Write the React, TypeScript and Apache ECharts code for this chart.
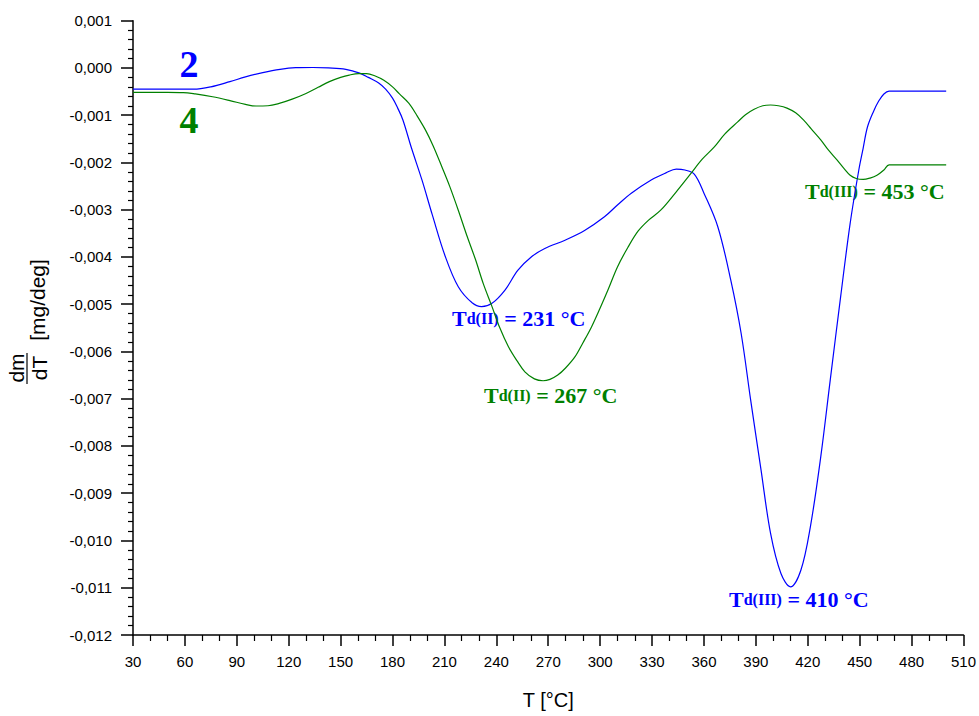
import React, { useEffect, useRef } from 'react';
import * as echarts from 'echarts';

// Temperature (°C) and DTG values (mg/deg)
const tempSample2 = [30, 40, 50, 60, 65, 75, 86, 95, 105, 115, 124, 134, 143, 153, 161, 166, 172, 176, 180, 183, 186, 191, 197, 203, 210.5, 218, 226, 231.5, 237.5, 245, 252.5, 260.5, 268, 280, 291, 302.5, 310, 318, 329.5, 338, 344, 349, 354.5, 360, 368, 375.5, 381.5, 387, 393, 398.5, 404.5, 410, 416, 421.5, 427.5, 433, 439, 444.5, 449.5, 452, 454.5, 458, 461, 464, 467, 480, 490, 500];
const dtgSample2 = [-0.45e-3, -0.45e-3, -0.45e-3, -0.45e-3, -0.45e-3, -0.40e-3, -0.29e-3, -0.19e-3, -0.10e-3, -0.03e-3, 0.005e-3, 0.01e-3, 0.0, -0.03e-3, -0.11e-3, -0.2e-3, -0.32e-3, -0.45e-3, -0.64e-3, -0.85e-3, -1.10e-3, -1.70e-3, -2.37e-3, -3.11e-3, -3.99e-3, -4.63e-3, -4.97e-3, -5.05e-3, -4.98e-3, -4.70e-3, -4.28e-3, -3.99e-3, -3.82e-3, -3.64e-3, -3.44e-3, -3.15e-3, -2.90e-3, -2.65e-3, -2.37e-3, -2.22e-3, -2.14e-3, -2.16e-3, -2.25e-3, -2.65e-3, -3.36e-3, -4.49e-3, -5.62e-3, -7.03e-3, -8.51e-3, -9.85e-3, -10.70e-3, -10.98e-3, -10.63e-3, -9.71e-3, -8.23e-3, -6.60e-3, -4.84e-3, -3.29e-3, -2.16e-3, -1.70e-3, -1.25e-3, -0.92e-3, -0.70e-3, -0.55e-3, -0.49e-3, -0.49e-3, -0.49e-3, -0.49e-3];

const tempSample4 = [30, 40, 50, 59, 66, 76, 86, 95, 101, 108, 114.5, 122, 130, 137, 143.5, 150, 155, 160.5, 165, 170, 175, 180, 184, 189.5, 194, 199, 203.5, 208.5, 213, 218, 223, 228, 232.5, 237.5, 242, 247, 252, 256.5, 262, 267, 271, 275.5, 280, 285.5, 290, 295, 300, 304.5, 310, 316, 322, 328, 335, 344, 352.5, 359, 366, 372, 379.5, 384, 389, 394, 398.5, 403, 408, 413, 417.5, 422, 427.5, 432, 437, 441, 444.5, 448, 452, 456, 460, 464, 467, 480, 490, 500];
const dtgSample4 = [-0.515e-3, -0.515e-3, -0.515e-3, -0.52e-3, -0.55e-3, -0.61e-3, -0.69e-3, -0.77e-3, -0.805e-3, -0.80e-3, -0.75e-3, -0.66e-3, -0.54e-3, -0.41e-3, -0.29e-3, -0.20e-3, -0.15e-3, -0.12e-3, -0.12e-3, -0.17e-3, -0.26e-3, -0.40e-3, -0.55e-3, -0.75e-3, -1.0e-3, -1.31e-3, -1.65e-3, -2.09e-3, -2.5e-3, -3.01e-3, -3.55e-3, -4.06e-3, -4.57e-3, -5.05e-3, -5.5e-3, -5.90e-3, -6.2e-3, -6.43e-3, -6.58e-3, -6.62e-3, -6.59e-3, -6.50e-3, -6.35e-3, -6.11e-3, -5.82e-3, -5.48e-3, -5.08e-3, -4.70e-3, -4.21e-3, -3.80e-3, -3.45e-3, -3.22e-3, -3.01e-3, -2.62e-3, -2.23e-3, -1.93e-3, -1.67e-3, -1.40e-3, -1.14e-3, -0.99e-3, -0.875e-3, -0.80e-3, -0.784e-3, -0.80e-3, -0.85e-3, -0.95e-3, -1.10e-3, -1.29e-3, -1.52e-3, -1.74e-3, -1.95e-3, -2.13e-3, -2.27e-3, -2.34e-3, -2.36e-3, -2.33e-3, -2.27e-3, -2.16e-3, -2.05e-3, -2.05e-3, -2.05e-3, -2.05e-3];

const seriesNames = ['2', '4'];
const peakLabels2 = [
  { phase: 'd(II)', temp: '231' },
  { phase: 'd(III)', temp: '410' },
];
const peakLabels4 = [
  { phase: 'd(II)', temp: '267' },
  { phase: 'd(III)', temp: '453' },
];

const BLUE = '#0000ff';
const GREEN = '#008000';
const SANS = 'Liberation Sans, Arial, Helvetica, sans-serif';
const SERIF = 'Liberation Serif, Times New Roman, serif';

function zip(xs: number[], ys: number[]) {
  return xs.map((x, i) => [x, ys[i]]);
}

function fmtY(v: number) {
  const r = Math.round(v * 1000);
  return (r < 0 ? '-' : '') + '0,' + String(Math.abs(r)).padStart(3, '0');
}

function tdLabel(p: { phase: string; temp: string }, x: number, y: number, color: string) {
  return {
    type: 'text',
    x,
    y,
    style: {
      text: `{a|T}{b|${p.phase}}{a| = ${p.temp} °C}`,
      align: 'left',
      verticalAlign: 'middle',
      fill: color,
      rich: {
        a: { fontFamily: SERIF, fontWeight: 'bold', fontSize: 22, fill: color },
        b: { fontFamily: SERIF, fontWeight: 'bold', fontSize: 16, fill: color },
      },
    },
  };
}

export default function App() {
  const ref = useRef<HTMLDivElement>(null);
  useEffect(() => {
    if (!ref.current) return;
    const chart = echarts.init(ref.current, null, { renderer: 'svg' });
    const option: any = {
      animation: false,
      backgroundColor: '#ffffff',
      grid: { left: 133, right: 12, top: 20.7, bottom: 81, containLabel: false },
      xAxis: {
        type: 'value',
        min: 30,
        max: 510,
        interval: 30,
        name: 'T [°C]',
        nameLocation: 'middle',
        nameGap: 55,
        nameTextStyle: { fontFamily: SANS, fontSize: 20, color: '#000' },
        axisLine: { show: true, onZero: false, lineStyle: { color: '#000', width: 1.5 } },
        axisTick: { show: true, inside: false, length: 11, lineStyle: { color: '#000', width: 1.5 } },
        minorTick: { show: true, splitNumber: 3, length: 6, lineStyle: { color: '#000', width: 1.2 } },
        axisLabel: { margin: 19, fontFamily: SANS, fontSize: 15, color: '#000' },
        splitLine: { show: false },
      },
      yAxis: {
        type: 'value',
        min: -0.012,
        max: 0.001,
        interval: 0.001,
        axisLine: { show: true, onZero: false, lineStyle: { color: '#000', width: 1.5 } },
        axisTick: { show: true, inside: false, length: 12, lineStyle: { color: '#000', width: 1.5 } },
        minorTick: { show: true, splitNumber: 5, length: 5, lineStyle: { color: '#000', width: 1.2 } },
        axisLabel: { margin: 21, fontFamily: SANS, fontSize: 15, color: '#000', formatter: fmtY },
        splitLine: { show: false },
      },
      series: [
        {
          name: seriesNames[0],
          type: 'line',
          data: zip(tempSample2, dtgSample2),
          showSymbol: false,
          smooth: 0.35,
          lineStyle: { color: BLUE, width: 1.2 },
          itemStyle: { color: BLUE },
        },
        {
          name: seriesNames[1],
          type: 'line',
          data: zip(tempSample4, dtgSample4),
          showSymbol: false,
          smooth: 0.35,
          lineStyle: { color: GREEN, width: 1.2 },
          itemStyle: { color: GREEN },
        },
      ],
      graphic: [
        {
          type: 'text', x: 189, y: 64,
          style: { text: seriesNames[0], align: 'center', verticalAlign: 'middle', fill: BLUE, font: `bold 38px ${SERIF}` },
        },
        {
          type: 'text', x: 189, y: 120,
          style: { text: seriesNames[1], align: 'center', verticalAlign: 'middle', fill: GREEN, font: `bold 38px ${SERIF}` },
        },
        tdLabel(peakLabels2[0], 452, 318, BLUE),
        tdLabel(peakLabels4[0], 484, 395, GREEN),
        tdLabel(peakLabels2[1], 729, 599, BLUE),
        tdLabel(peakLabels4[1], 805, 191, GREEN),
        {
          type: 'text', x: 16, y: 368, rotation: Math.PI / 2,
          style: { text: 'dm', align: 'center', verticalAlign: 'middle', fill: '#000', font: `21px ${SANS}` },
        },
        {
          type: 'line',
          shape: { x1: 27, y1: 353, x2: 27, y2: 384 },
          style: { stroke: '#000', lineWidth: 1.2 },
        },
        {
          type: 'text', x: 39, y: 368, rotation: Math.PI / 2,
          style: { text: 'dT', align: 'center', verticalAlign: 'middle', fill: '#000', font: `21px ${SANS}` },
        },
        {
          type: 'text', x: 37, y: 300, rotation: Math.PI / 2,
          style: { text: '[mg/deg]', align: 'center', verticalAlign: 'middle', fill: '#000', font: `21px ${SANS}` },
        },
      ],
    };
    chart.setOption(option);
    return () => chart.dispose();
  }, []);
  return <div ref={ref} style={{ position: 'absolute', left: 0, top: 0, width: 979, height: 716 }} />;
}
